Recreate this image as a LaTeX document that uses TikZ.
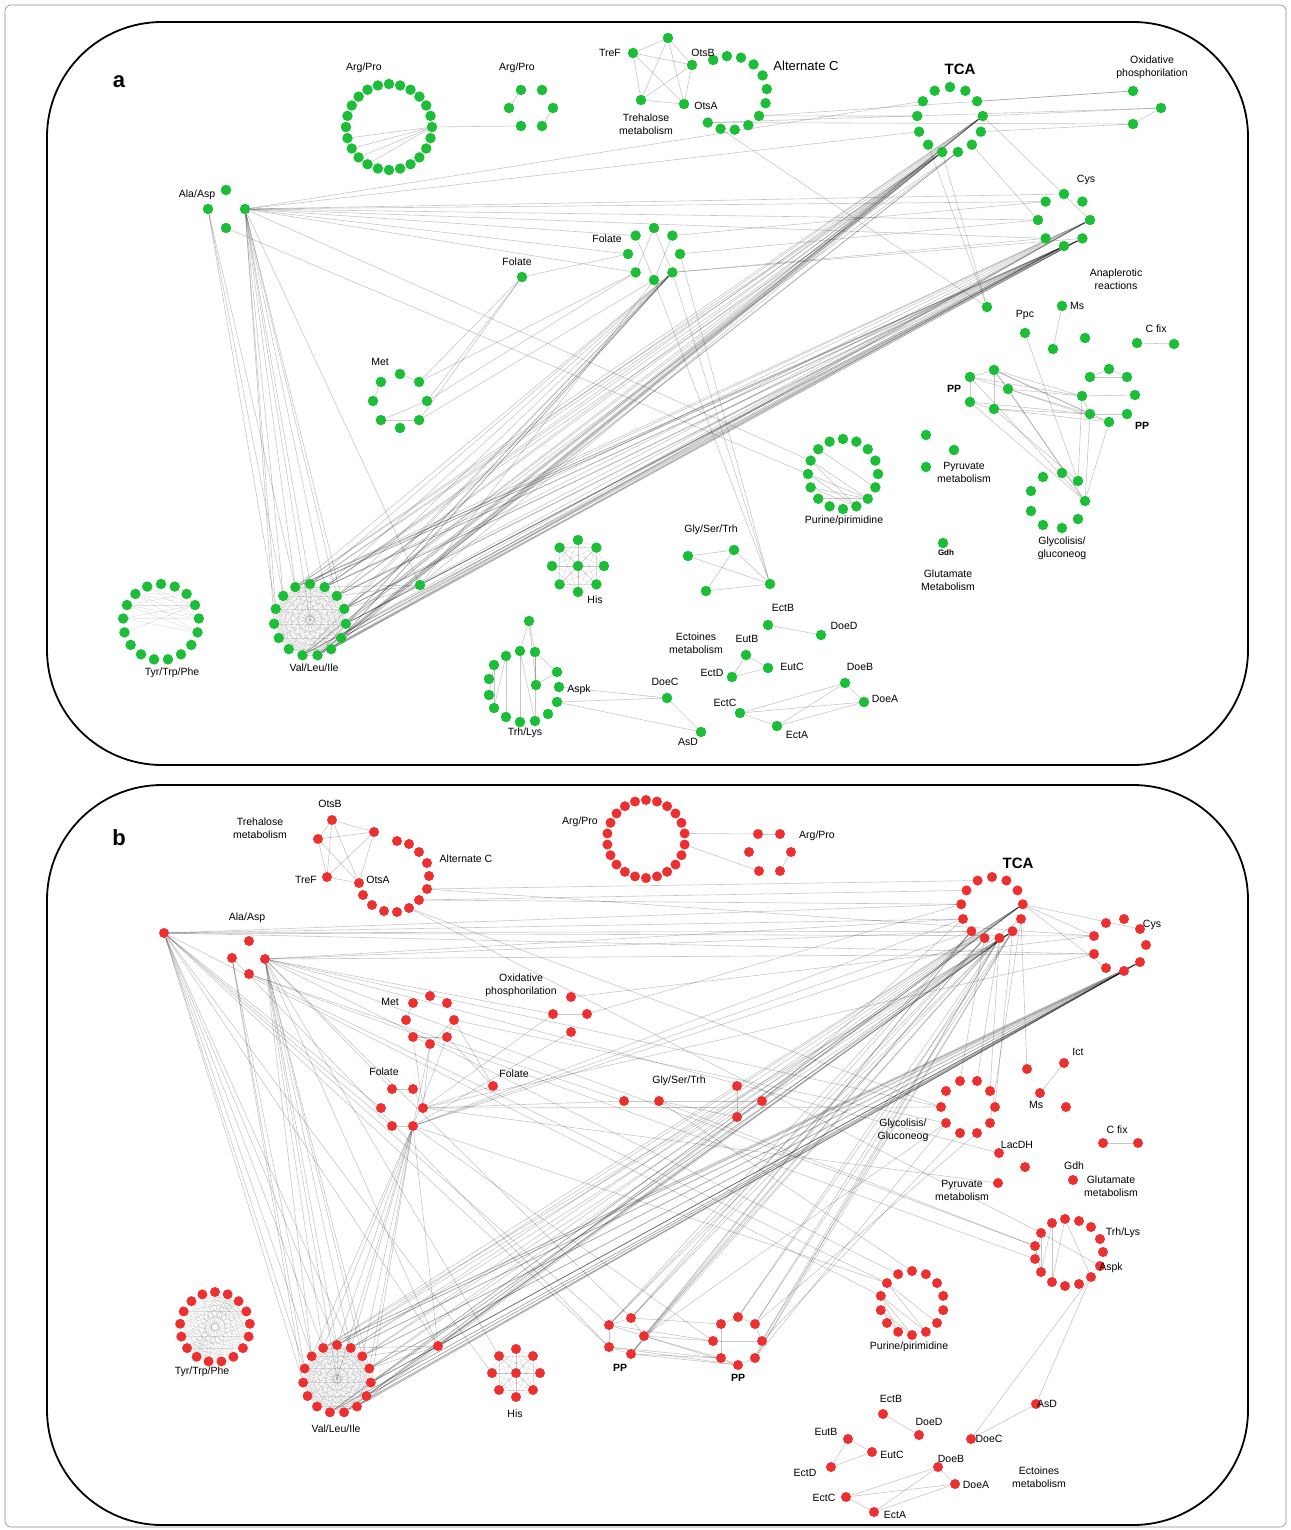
\documentclass[tikz,border=0pt]{standalone}
\usepackage{fontspec}
\setmainfont{Liberation Sans}
\definecolor{ngreen}{RGB}{28,190,55}
\definecolor{nred}{RGB}{236,48,48}
\pgfdeclarelayer{edgelayer}
\pgfsetlayers{edgelayer,main}
\newcommand{\mkring}[7]{%
  \foreach \i in {1,...,#2}{%
    \pgfmathsetmacro{\myang}{#6-(\i-1)*360/#2}%
    \node[#7] (#1-\i) at ({#3+#5*cos(\myang)},{#4-#5*sin(\myang)}) {};%
  }%
}
\newcommand{\mkclique}[3]{%
  \foreach \i in {1,...,#2}{%
    \foreach \j in {\i,...,#2}{%
      \ifnum\j>\i \draw[#3] (#1-\i) -- (#1-\j);\fi
    }%
  }%
}
\tikzset{
  gn/.style={circle,fill=ngreen,draw=none,inner sep=0pt,minimum size=10.5pt},
  rn/.style={circle,fill=nred,draw=none,inner sep=0pt,minimum size=10pt},
  ed/.style={draw=black,opacity=0.22,line width=0.6pt},
  edl/.style={draw=black,opacity=0.12,line width=0.5pt},
  lab/.style={font=\fontsize{10.5}{13}\selectfont,inner sep=0.5pt,align=center},
  labb/.style={font=\fontsize{10.5}{13}\selectfont\bfseries,inner sep=0.5pt},
  panelframe/.style={draw=black,line width=1.8pt,rounded corners=115pt},
}
\begin{document}
\begin{tikzpicture}[x=1pt,y=-1pt]
\useasboundingbox (0,0) rectangle (1290,1530);
\draw[black!45,line width=0.6pt,rounded corners=6pt] (5,5) rectangle (1286,1527);
\draw[panelframe] (47,22) rectangle (1248,765);
\draw[panelframe] (47,785) rectangle (1248,1525);
\node[font=\fontsize{22}{24}\selectfont\bfseries] (lbl-a) at (119,82) {a};
\node[font=\fontsize{22}{24}\selectfont\bfseries] (lbl-b) at (119,838) {b};

%% ================= PANEL A nodes =================
\mkring{a-argb}{24}{389}{127}{43}{90}{gn}
\foreach \n/\x/\y in {1/521/90,2/542/90,3/509/108,4/553/108,5/521/126,6/542/126} \node[gn] (a-args-\n) at (\x,\y) {};
\foreach \n/\x/\y in {tref/633/53,ttop/668/38,otsb/692/65,tll/641/100,otsa/684/104} \node[gn] (a-\n) at (\x,\y) {};
\foreach \i in {1,...,12}{\pgfmathsetmacro{\myang}{117-(\i-1)*22.18}\node[gn] (a-alt-\i) at ({730+37*cos(\myang)},{93-37*sin(\myang)}) {};}
\mkring{a-tca}{13}{950}{120}{33}{90}{gn}
\foreach \n/\x/\y in {1/1133/91,2/1161/108,3/1133/124} \node[gn] (a-ox-\n) at (\x,\y) {};
\mkring{a-cys}{8}{1064}{220}{26}{90}{gn}
\foreach \n/\x/\y in {an1/987/307,ms/1062/306,ppc/1025/333,an2/1053/349,an3/1085/338,cf1/1137/343,cf2/1174/344,py1/926/435,py2/954/450,py3/926/467,gdh/943/543} \node[gn] (a-\n) at (\x,\y) {};
\foreach \n/\x/\y in {1/970/377,2/994/370,3/1008/389,4/970/402,5/994/409} \node[gn] (a-ppl-\n) at (\x,\y) {};
\foreach \n/\x/\y in {1/1090/377,2/1109/369,3/1127/377,4/1082/396,5/1135/395,6/1090/414,7/1109/422,8/1127/414} \node[gn] (a-ppr-\n) at (\x,\y) {};
\foreach \n/\x/\y in {1/1043/477,2/1062/473,3/1078/481,4/1085/501,5/1078/519,6/1062/528,7/1043/525,8/1031/511,9/1031/491} \node[gn] (a-glc-\n) at (\x,\y) {};
\mkring{a-pur}{16}{843}{474}{35}{90}{gn}
\foreach \n/\x/\y in {1/688/556,2/734/550,3/706/591,4/770/584} \node[gn] (a-gst-\n) at (\x,\y) {};
\foreach \n/\x/\y in {ectb/768/625,doed/821/635,eutb/746/655,eutc/768/668,ectd/732/677,doeb/845/683,doea/864/702,ectc/740/713,ecta/777/726,doec/667/698,asd/701/732} \node[gn] (a-\n) at (\x,\y) {};
\foreach \n/\x/\y in {1/494/665,2/506/656,3/520/651,4/535/652,5/557/672,6/559/687,7/557/702,8/548/714,9/535/721,10/520/722,11/506/717,12/494/708,13/489/695,14/489/679,15/536/685,top/529/621} \node[gn] (a-trh-\n) at (\x,\y) {};
\mkring{a-his}{8}{578}{566}{26}{90}{gn}
\node[gn] (a-his-9) at (578,566) {};
\mkring{a-vli}{15}{310}{620}{36}{90}{gn}
\coordinate (a-vli-16) at (310,620);
\node[gn] (a-x) at (420,585) {};
\mkring{a-tyr}{17}{161}{622}{38}{90}{gn}
\mkring{a-met}{8}{400}{401}{27}{90}{gn}
\node[gn] (a-fols) at (522,277) {};
\mkring{a-fol}{8}{654}{254}{26}{90}{gn}
\foreach \n/\x/\y in {1/226/190,2/208/209,3/245/209,4/226/228} \node[gn] (a-ala-\n) at (\x,\y) {};

%% ================= PANEL A labels =================
\node[lab] (la-ap1) at (364,68) {Arg/Pro};
\node[lab] (la-ap2) at (517,68) {Arg/Pro};
\node[lab] (la-tref) at (610,53) {TreF};
\node[lab] (la-otsb) at (703,53) {OtsB};
\node[lab] (la-otsa) at (706,106) {OtsA};
\node[lab] (la-treh) at (646,124) {Trehalose\\metabolism};
\node[lab,font=\fontsize{13}{15}\selectfont] (la-alt) at (806,66) {Alternate C};
\node[font=\fontsize{15}{17}\selectfont\bfseries] (la-tca) at (960,69) {TCA};
\node[lab] (la-ox) at (1152,67) {Oxidative\\phosphorilation};
\node[lab] (la-cys) at (1086,180) {Cys};
\node[lab] (la-ala) at (197,195) {Ala/Asp};
\node[lab] (la-fol1) at (607,239) {Folate};
\node[lab] (la-fol2) at (517,262) {Folate};
\node[lab] (la-ana) at (1116,279) {Anaplerotic\\reactions};
\node[lab] (la-ppc) at (1025,315) {Ppc};
\node[lab] (la-ms) at (1077,306) {Ms};
\node[lab] (la-cfix) at (1156,329) {C fix};
\node[lab] (la-met) at (380,362) {Met};
\node[labb] (la-pp1) at (954,389) {PP};
\node[labb] (la-pp2) at (1142,426) {PP};
\node[lab] (la-pyr) at (964,472) {Pyruvate\\metabolism};
\node[lab] (la-pur) at (844,521) {Purine/pirimidine};
\node[lab] (la-gst) at (711,530) {Gly/Ser/Trh};
\node[lab] (la-glc) at (1062,548) {Glycolisis/\\gluconeog};
\node[font=\fontsize{8}{9}\selectfont\bfseries] (la-gdh) at (946,553) {Gdh};
\node[lab] (la-glu) at (948,580) {Glutamate\\Metabolism};
\node[lab] (la-his) at (595,600) {His};
\node[lab] (la-ectb) at (783,608) {EctB};
\node[lab] (la-doed) at (844,626) {DoeD};
\node[lab] (la-ecto) at (696,643) {Ectoines\\metabolism};
\node[lab] (la-eutb) at (747,639) {EutB};
\node[lab] (la-eutc) at (792,667) {EutC};
\node[lab] (la-ectd) at (712,673) {EctD};
\node[lab] (la-doeb) at (860,667) {DoeB};
\node[lab] (la-doea) at (885,699) {DoeA};
\node[lab] (la-ectc) at (725,703) {EctC};
\node[lab] (la-ecta) at (797,735) {EctA};
\node[lab] (la-doec) at (665,682) {DoeC};
\node[lab] (la-asd) at (688,742) {AsD};
\node[lab] (la-aspk) at (579,690) {Aspk};
\node[lab] (la-trh) at (525,733) {Trh/Lys};
\node[lab] (la-tyr) at (172,673) {Tyr/Trp/Phe};
\node[lab] (la-vli) at (314,668) {Val/Leu/Ile};

%% ================= PANEL B nodes =================
\foreach \n/\x/\y in {tref/327/877,otsb/332/820,t3/374/832,t4/318/839,otsa/359/883} \node[rn] (b-\n) at (\x,\y) {};
\foreach \n/\x/\y in {1/397/841,2/409/844,3/419/852,4/427/863,5/429/876,6/427/889,7/419/900,8/409/908,9/397/912,10/384/911,11/372/905,12/363/895} \node[rn] (b-alt-\n) at (\x,\y) {};
\mkring{b-argb}{22}{646}{839}{39}{90}{rn}
\foreach \n/\x/\y in {1/758/834,2/780/834,3/749/852,4/791/852,5/759/871,6/780/871} \node[rn] (b-args-\n) at (\x,\y) {};
\foreach \n/\x/\y in {1/164/933,2/249/941,3/232/958,4/265/959,5/249/974} \node[rn] (b-ala-\n) at (\x,\y) {};
\foreach \n/\x/\y in {1/571/997,2/553/1014,3/587/1014,4/571/1032} \node[rn] (b-ox-\n) at (\x,\y) {};
\mkring{b-met}{8}{430}{1020}{24}{90}{rn}
\node[rn] (b-fols) at (493,1086) {};
\foreach \n/\x/\y in {1/392/1089,2/413/1089,3/423/1108,4/413/1126,5/392/1126,6/381/1108} \node[rn] (b-fol-\n) at (\x,\y) {};
\foreach \n/\x/\y in {1/624/1101,2/659/1101,3/737/1086,4/762/1101,5/737/1117} \node[rn] (b-gst-\n) at (\x,\y) {};
\mkring{b-tca}{13}{992}{908}{31}{90}{rn}
\foreach \n/\x/\y in {1/1106/923,2/1124/919,3/1140/929,4/1146/945,5/1140/962,6/1124/971,7/1106/968,8/1094/954,9/1094/936} \node[rn] (b-cys-\n) at (\x,\y) {};
\foreach \n/\x/\y in {ict/1064/1063,ms/1040/1093,n1/1066/1107,n2/1027/1069,cf1/1103/1143,cf2/1138/1143,lac/999/1153,py1/1025/1167,py2/998/1183,gdh/1073/1180} \node[rn] (b-\n) at (\x,\y) {};
\foreach \n/\x/\y in {1/960/1081,2/977/1081,3/990/1091,4/995/1107,5/990/1123,6/977/1133,7/960/1133,8/946/1123,9/941/1107,10/946/1091} \node[rn] (b-glc-\n) at (\x,\y) {};
\foreach \n/\x/\y in {1/1052/1223,2/1065/1219,3/1079/1221,4/1091/1227,5/1100/1239,6/1103/1252,7/1100/1266,8/1091/1277,9/1079/1284,10/1065/1286,11/1052/1282,12/1041/1272,13/1035/1259,14/1035/1246,15/1041/1233} \node[rn] (b-trh-\n) at (\x,\y) {};
\mkring{b-pur}{14}{912}{1303}{32}{90}{rn}
\foreach \n/\x/\y in {1/609/1325,2/631/1318,3/644/1336,4/609/1347,5/631/1354} \node[rn] (b-ppl-\n) at (\x,\y) {};
\foreach \n/\x/\y in {1/721/1324,2/738/1317,3/755/1324,4/713/1341,5/762/1341,6/721/1358,7/738/1365,8/755/1358} \node[rn] (b-ppr-\n) at (\x,\y) {};
\mkring{b-tyr}{17}{215}{1327}{35}{90}{rn}
\mkring{b-vli}{15}{337}{1379}{34}{90}{rn}
\coordinate (b-vli-16) at (337,1379);
\node[rn] (b-x) at (438,1346) {};
\mkring{b-his}{8}{516}{1373}{24}{90}{rn}
\node[rn] (b-his-9) at (516,1373) {};
\foreach \n/\x/\y in {ectb/883/1414,doed/919/1435,eutb/848/1439,eutc/872/1452,ectd/831/1467,doeb/938/1467,doea/955/1484,ectc/846/1497,ecta/874/1512,doec/971/1439,asd/1036/1404} \node[rn] (b-\n) at (\x,\y) {};

%% ================= PANEL B labels =================
\node[lab] (lb-treh) at (260,828) {Trehalose\\metabolism};
\node[lab] (lb-otsb) at (330,804) {OtsB};
\node[lab] (lb-tref) at (306,880) {TreF};
\node[lab] (lb-otsa) at (378,880) {OtsA};
\node[lab] (lb-alt) at (466,859) {Alternate C};
\node[lab] (lb-ap1) at (580,822) {Arg/Pro};
\node[lab] (lb-ap2) at (817,836) {Arg/Pro};
\node[font=\fontsize{15}{17}\selectfont\bfseries] (lb-tca) at (1018,863) {TCA};
\node[lab] (lb-cys) at (1152,925) {Cys};
\node[lab] (lb-ala) at (247,918) {Ala/Asp};
\node[lab] (lb-ox) at (521,985) {Oxidative\\phosphorilation};
\node[lab] (lb-met) at (390,1002) {Met};
\node[lab] (lb-fol1) at (384,1072) {Folate};
\node[lab] (lb-fol2) at (514,1074) {Folate};
\node[lab] (lb-gst) at (679,1081) {Gly/Ser/Trh};
\node[lab] (lb-ict) at (1078,1052) {Ict};
\node[lab] (lb-ms) at (1036,1105) {Ms};
\node[lab] (lb-cfix) at (1117,1130) {C fix};
\node[lab] (lb-glc) at (903,1130) {Glycolisis/\\Gluconeog};
\node[lab] (lb-lac) at (1017,1145) {LacDH};
\node[lab] (lb-gdh) at (1074,1166) {Gdh};
\node[lab] (lb-glu) at (1111,1186) {Glutamate\\metabolism};
\node[lab] (lb-pyr) at (962,1190) {Pyruvate\\metabolism};
\node[lab] (lb-trh) at (1123,1233) {Trh/Lys};
\node[lab] (lb-aspk) at (1111,1268) {Aspk};
\node[lab] (lb-pur) at (909,1347) {Purine/pirimidine};
\node[labb] (lb-pp1) at (620,1368) {PP};
\node[labb] (lb-pp2) at (738,1378) {PP};
\node[lab] (lb-tyr) at (202,1372) {Tyr/Trp/Phe};
\node[lab] (lb-vli) at (336,1429) {Val/Leu/Ile};
\node[lab] (lb-his) at (515,1414) {His};
\node[lab] (lb-ectb) at (891,1399) {EctB};
\node[lab] (lb-asd) at (1047,1404) {AsD};
\node[lab] (lb-doed) at (929,1422) {DoeD};
\node[lab] (lb-eutb) at (826,1432) {EutB};
\node[lab] (lb-doec) at (989,1439) {DoeC};
\node[lab] (lb-eutc) at (892,1455) {EutC};
\node[lab] (lb-doeb) at (951,1459) {DoeB};
\node[lab] (lb-ectd) at (805,1473) {EctD};
\node[lab] (lb-ecto) at (1039,1477) {Ectoines\\metabolism};
\node[lab] (lb-doea) at (976,1485) {DoeA};
\node[lab] (lb-ectc) at (824,1498) {EctC};
\node[lab] (lb-ecta) at (895,1515) {EctA};

\begin{pgfonlayer}{edgelayer}
%% ================= PANEL A edges =================
\foreach \u/\v in {argb-7/argb-18,argb-7/argb-17,argb-7/argb-16,argb-7/argb-15,argb-21/argb-22,argb-7/args-5,args-3/args-1,args-4/args-6,
  tref/ttop,tref/otsb,tref/tll,tref/otsa,ttop/otsb,ttop/tll,ttop/otsa,otsb/tll,tll/otsa,otsb/otsa,
  alt-12/ox-2,alt-12/ox-3,alt-8/ox-1,alt-8/tca-11,alt-11/an1,tca-3/ox-1,tca-4/ox-2,tca-5/ox-3,tca-4/cys-3,tca-6/cys-7,tca-8/an1,tca-9/an1,ox-2/ox-3,
  ala-2/vli-13,ala-2/vli-14,ala-2/vli-15,ala-4/pur-13,
  fols/met-2,fols/met-3,fols/met-4,fols/fol-7,fol-6/met-3,fol-5/met-4,fol-6/met-2,fol-4/gst-4,fol-5/gst-4,fol-3/gst-4,fol-3/cys-7,fol-4/cys-4,fol-2/cys-8,fol-4/cys-6,fol-1/fol-6,fol-1/fol-4,fol-8/fol-5,fol-2/fol-5,
  met-8/met-7,met-6/met-4,met-6/met-3,met-1/met-2,
  x/tca-8,x/cys-4,x/cys-5,x/fol-5,
  trh-top/trh-3,trh-top/trh-4,trh-top/trh-15,trh-4/trh-5,trh-15/trh-5,trh-4/trh-15,trh-1/trh-13,trh-2/trh-12,trh-2/trh-11,trh-3/trh-10,trh-3/trh-9,trh-4/trh-9,trh-1/trh-12,trh-6/doec,trh-7/asd,trh-7/doec,
  gst-1/gst-2,gst-1/gst-4,gst-2/gst-4,gst-2/gst-3,gst-3/gst-4,
  ectb/doed,eutb/eutc,eutb/ectd,ectd/eutc,ectc/doeb,ectc/doea,ectc/ecta,ecta/doeb,ecta/doea,doeb/doea,doec/asd,
  ppl-1/ppl-2,ppl-1/ppl-4,ppl-1/ppl-3,ppl-2/ppl-5,ppl-4/ppl-5,ppl-2/ppl-3,ppl-2/ppr-4,ppl-2/ppr-6,ppl-3/ppr-4,ppl-3/ppr-6,ppl-5/ppr-6,ppl-5/ppr-7,ppl-4/ppr-6,ppl-1/ppr-4,ppl-3/ppr-7,ppl-2/ppr-7,
  ppr-1/ppr-2,ppr-2/ppr-3,ppr-1/ppr-3,ppr-4/ppr-5,ppr-6/ppr-8,ppr-4/ppr-6,
  ppl-1/glc-4,ppl-4/glc-4,ppl-2/glc-4,ppl-5/glc-3,ppl-3/glc-4,ppr-6/glc-4,ppr-7/glc-4,ppr-4/glc-3,ppc/glc-3,ms/an2,cf1/cf2}
  \draw[ed] (a-\u) -- (a-\v);
\foreach \v in {vli-12,vli-13,vli-14,vli-15,vli-1,vli-2,vli-3,vli-4,vli-16,x,cys-7,cys-8,cys-6,cys-1,fol-7,fol-8,fol-6,tca-10,tca-12,pur-14}
  \draw[ed] (a-ala-3) -- (a-\v);
\mkclique{a-vli}{16}{edl}
\foreach \i in {1,...,9,15}{%
  \draw[ed] (a-vli-\i) -- (a-tca-8);
  \draw[ed] (a-vli-\i) -- (a-tca-4);
  \draw[ed] (a-vli-\i) -- (a-cys-3);
  \draw[ed] (a-vli-\i) -- (a-cys-4);
  \draw[ed] (a-vli-\i) -- (a-cys-5);
  \draw[ed] (a-vli-\i) -- (a-fol-4);
}
\foreach \i in {2,4,6,8} \draw[ed] (a-vli-\i) -- (a-tca-7);
\foreach \i in {2,3,4,5} \draw[ed] (a-vli-\i) -- (a-x);
\foreach \u/\v in {15/4,15/5,16/4,16/5,16/6,17/4,14/5,14/4,15/3,13/4,16/3,15/6,17/5,14/6}
  \draw[edl] (a-tyr-\u) -- (a-tyr-\v);
\foreach \u/\v in {13/7,13/8,12/7,12/8,11/7,14/8,15/6,14/7}
  \draw[ed] (a-pur-\u) -- (a-pur-\v);
\mkclique{a-his}{9}{edl}

%% ================= PANEL B edges =================
\foreach \u/\v in {tref/otsb,tref/t3,tref/t4,tref/otsa,otsb/t3,otsb/t4,otsb/otsa,t3/t4,t3/otsa,t4/otsa,
  argb-6/args-1,argb-7/args-5,args-1/args-2,args-4/args-6,argb-20/argb-21,argb-2/argb-3,
  alt-6/tca-13,alt-7/tca-12,alt-7/tca-11,alt-8/glc-9,alt-8/trh-15,alt-6/cys-9,
  ala-3/vli-13,ala-3/vli-14,ala-3/vli-12,ala-3/ppl-4,ala-5/pur-13,ala-5/gst-1,ala-5/trh-13,
  met-6/fol-3,met-5/fol-3,met-4/fol-4,met-5/fol-4,met-3/fols,met-4/fols,fols/fol-3,ox-2/fol-3,ox-4/fol-4,ox-2/ox-3,
  met-6/met-4,met-6/met-5,met-4/met-3,met-3/met-5,met-8/met-7,fol-1/fol-2,fol-5/fol-4,fol-3/fol-2,
  met-3/glc-8,ox-3/tca-11,ox-1/cys-9,fol-3/py2,fol-3/gst-1,fol-3/glc-9,fol-4/ppr-4,fol-4/pur-13,fol-4/tca-9,fol-4/tca-10,fol-4/tca-8,fol-3/cys-8,fol-4/x,
  gst-1/gst-2,gst-3/gst-5,gst-2/gst-4,gst-2/gst-5,gst-2/trh-14,gst-4/tca-10,gst-2/pur-1,
  x/tca-6,x/tca-5,x/cys-5,x/cys-6,
  glc-4/tca-6,glc-3/tca-7,glc-2/tca-7,glc-5/tca-5,glc-1/tca-8,glc-7/ppr-5,glc-6/ppr-3,glc-8/ppl-3,glc-8/ppr-8,
  tca-5/n2,tca-4/cys-9,tca-4/cys-3,tca-4/cys-7,
  ppl-1/ppl-2,ppl-1/ppl-4,ppl-2/ppl-3,ppl-4/ppl-5,ppl-3/ppl-5,ppl-1/ppl-3,
  ppr-1/ppr-2,ppr-2/ppr-3,ppr-4/ppr-5,ppr-6/ppr-7,ppr-7/ppr-8,ppr-1/ppr-6,ppr-3/ppr-5,ppr-5/ppr-8,
  ppl-3/ppr-4,ppl-3/ppr-6,ppl-5/ppr-6,ppl-5/ppr-7,ppl-4/ppr-6,ppl-2/ppr-1,ppl-1/ppr-4,ppl-3/ppr-7,ppl-4/ppr-7,
  trh-15/trh-13,trh-15/trh-12,trh-1/trh-12,trh-1/trh-11,trh-14/trh-12,trh-2/trh-11,trh-2/trh-8,trh-15/trh-7,trh-8/doec,trh-8/asd,
  ectb/doed,eutb/eutc,eutb/ectd,ectd/eutc,ectc/doeb,ectc/doea,ectc/ecta,ecta/doeb,ecta/doea,doeb/doea,doec/asd,
  ict/ms,cf1/cf2}
  \draw[ed] (b-\u) -- (b-\v);
\foreach \v in {tca-10,tca-11,tca-9,cys-9,cys-8,vli-13,vli-14,vli-15,vli-1,vli-2,vli-12,x,fol-5,fol-6,ppl-1,ppl-4,pur-12,his-7}
  \draw[ed] (b-ala-1) -- (b-\v);
\foreach \v in {vli-1,vli-2,vli-3,vli-4,vli-15,vli-14,vli-16,tca-9,tca-10,cys-8,ox-2,glc-9,trh-14,lac,x,fol-1,ppl-2,his-8,pur-14}
  \draw[ed] (b-ala-4) -- (b-\v);
\foreach \i in {14,15,1,2,3,4,5,16} \draw[ed] (b-fol-4) -- (b-vli-\i);
\mkclique{b-vli}{16}{edl}
\foreach \i in {1,...,9,15}{%
  \draw[ed] (b-vli-\i) -- (b-tca-4);
  \draw[ed] (b-vli-\i) -- (b-tca-6);
  \draw[ed] (b-vli-\i) -- (b-cys-5);
  \draw[ed] (b-vli-\i) -- (b-cys-6);
}
\foreach \i in {2,3,4,5} \draw[ed] (b-vli-\i) -- (b-x);
\foreach \u in {ppl-1,ppl-2,ppl-3,ppl-5}{\foreach \v in {tca-7,tca-8,tca-9} \draw[ed] (b-\u) -- (b-\v);}
\foreach \u in {ppr-2,ppr-3,ppr-5,ppr-8}{\foreach \v in {tca-6,tca-7} \draw[ed] (b-\u) -- (b-\v);}
\foreach \u/\v in {12/7,12/8,11/8,13/7,11/9,13/6,12/9}
  \draw[ed] (b-pur-\u) -- (b-pur-\v);
\foreach \u in {12,...,17}{\foreach \v in {3,...,10} \draw[edl] (b-tyr-\u) -- (b-tyr-\v);}
\foreach \u in {1,2}{\foreach \v in {5,...,11} \draw[edl] (b-tyr-\u) -- (b-tyr-\v);}
\mkclique{b-his}{9}{edl}
\end{pgfonlayer}
\end{tikzpicture}
\end{document}
